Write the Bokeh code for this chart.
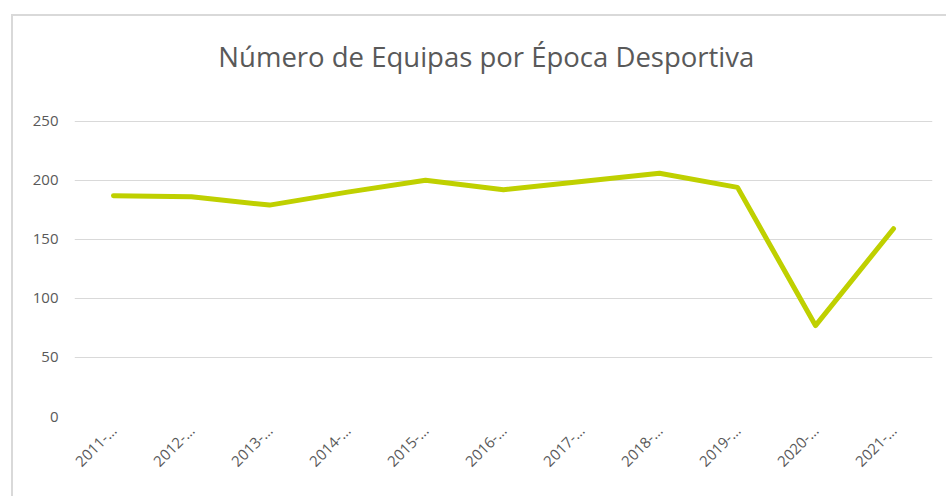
from bokeh.plotting import figure
from bokeh.models import FactorRange, Range1d, FixedTicker, Label
from bokeh.embed import file_html
from bokeh.resources import INLINE
import math

seasons = ["2011-…", "2012-…", "2013-…", "2014-…", "2015-…", "2016-…",
           "2017-…", "2018-…", "2019-…", "2020-…", "2021-…"]
teams = [187, 186, 179, 190, 200, 192, 199, 206, 194, 77, 159]
y_ticks = [0, 50, 100, 150, 200, 250]
title_text = "Número de Equipas por Época Desportiva"

FONT = "Open Sans"
GREY = "#595959"

# the frame reaches up to the top of the chart area so the title can sit inside it
p = figure(width=935, height=482, x_range=FactorRange(*seasons, range_padding=0),
           y_range=Range1d(0, 338.7), output_backend="svg", toolbar_location=None,
           min_border_left=61, min_border_right=16, min_border_top=0, min_border_bottom=82)
p.margin = (14, 0, 0, 11)
p.styles = {"border-top": "2px solid #d9d9d9", "border-left": "2px solid #d9d9d9",
            "box-sizing": "border-box"}

title = Label(x=5.28, y=304.5, x_units="data", y_units="data", text=title_text,
              text_font=FONT, text_font_size="27.5px", text_color=GREY,
              text_align="center", text_baseline="middle")
p.add_layout(title)

p.outline_line_color = None
p.xgrid.grid_line_color = None
p.ygrid.grid_line_color = "#d9d9d9"
p.ygrid.grid_line_width = 1

p.yaxis.ticker = FixedTicker(ticks=y_ticks)
p.yaxis.axis_line_color = None
p.yaxis.major_tick_line_color = None
p.yaxis.minor_tick_line_color = None
p.yaxis.major_tick_out = 0
p.yaxis.major_label_standoff = 16
p.yaxis.major_label_text_font = FONT
p.yaxis.major_label_text_font_size = "15px"
p.yaxis.major_label_text_color = GREY

p.xaxis.axis_line_color = None
p.xaxis.major_tick_line_color = None
p.xaxis.major_tick_out = 0
p.xaxis.major_label_orientation = math.pi / 4
p.xaxis.major_label_standoff = 11
p.xaxis.major_label_text_font = FONT
p.xaxis.major_label_text_font_size = "15px"
p.xaxis.major_label_text_color = GREY

p.line(x=seasons, y=teams, line_color="#BFD000", line_width=5,
       line_cap="round", line_join="round")

open("out.html", "w").write(file_html(p, INLINE))
